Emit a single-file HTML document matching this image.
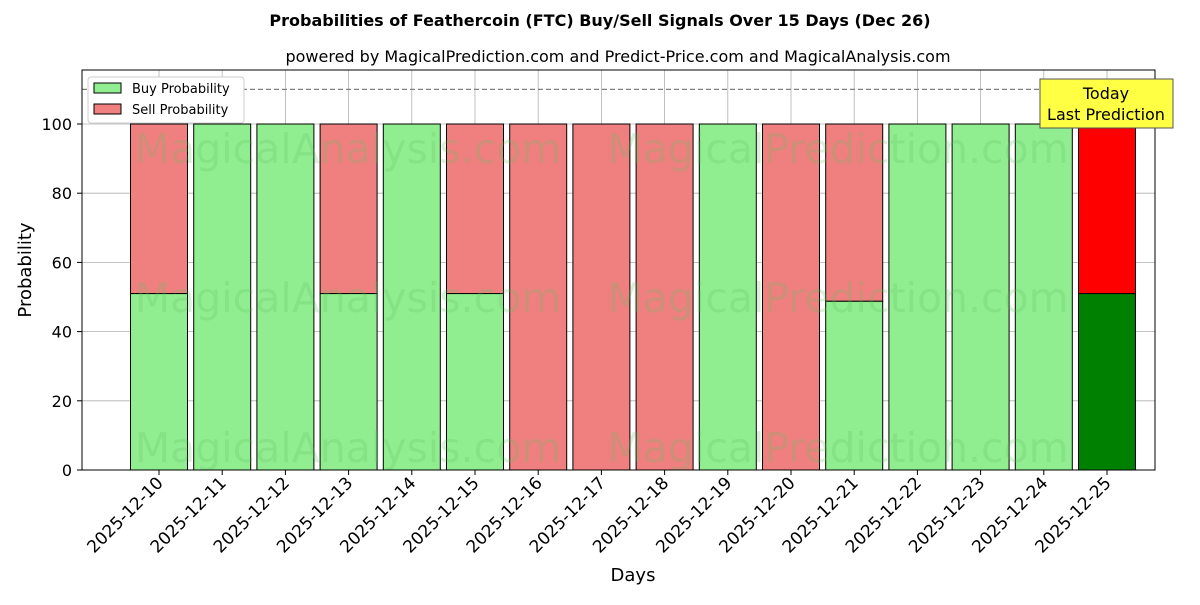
<!DOCTYPE html>
<html><head><meta charset="utf-8"><style>
body{margin:0;background:#fff;font-family:"Liberation Sans","DejaVu Sans",sans-serif;}
svg text{font-family:"DejaVu Sans","Liberation Sans",sans-serif;}
</style></head><body>
<svg id="chart" width="1200" height="600" xmlns="http://www.w3.org/2000/svg">
<text x="600" y="26" text-anchor="middle" font-size="16" font-weight="bold">Probabilities of Feathercoin (FTC) Buy/Sell Signals Over 15 Days (Dec 26)</text>
<text x="618" y="62" text-anchor="middle" font-size="16">powered by MagicalPrediction.com and Predict-Price.com and MagicalAnalysis.com</text>
<g id="grid"></g>
<g id="bars"></g>
<g id="wm" fill="#60c060" opacity="0.22" font-size="41">
<text x="348" y="163" text-anchor="middle">MagicalAnalysis.com</text>
<text x="838" y="163" text-anchor="middle">MagicalPrediction.com</text>
<text x="348" y="312" text-anchor="middle">MagicalAnalysis.com</text>
<text x="838" y="312" text-anchor="middle">MagicalPrediction.com</text>
<text x="348" y="462" text-anchor="middle">MagicalAnalysis.com</text>
<text x="838" y="462" text-anchor="middle">MagicalPrediction.com</text>
</g>
<g id="axes"></g>
<line x1="82" y1="89.4" x2="1155" y2="89.4" stroke="#808080" stroke-width="1.2" stroke-dasharray="5,3"/>
<rect x="82" y="70" width="1073" height="400" fill="none" stroke="#000" stroke-width="1"/>
<g>
<rect x="88" y="77" width="156" height="46" fill="#fff" stroke="#ccc" rx="3"/>
<rect x="94" y="83" width="27" height="10" fill="#90ee90" stroke="#000"/>
<text x="132" y="93" font-size="13">Buy Probability</text>
<rect x="94" y="104" width="27" height="10" fill="#f08080" stroke="#000"/>
<text x="132" y="114" font-size="13">Sell Probability</text>
</g>
<g>
<rect x="1040" y="79" width="133" height="49" fill="#ffff44" stroke="#555"/>
<text x="1106" y="99" text-anchor="middle" font-size="16">Today</text>
<text x="1106" y="120" text-anchor="middle" font-size="16">Last Prediction</text>
</g>
<text x="633" y="581" text-anchor="middle" font-size="18">Days</text>
<text transform="translate(31,270) rotate(-90)" text-anchor="middle" font-size="18">Probability</text>
</svg>
<script>
const days=["2025-12-10","2025-12-11","2025-12-12","2025-12-13","2025-12-14","2025-12-15","2025-12-16","2025-12-17","2025-12-18","2025-12-19","2025-12-20","2025-12-21","2025-12-22","2025-12-23","2025-12-24","2025-12-25"];
const buyValues=[51,100,100,51,100,51,0,0,0,100,0,48.8,100,100,100,51];
const sellValues=[49,0,0,49,0,49,100,100,100,0,100,51.2,0,0,0,49];
const yTicks=[0,20,40,60,80,100];
const NS="http://www.w3.org/2000/svg";
const y=v=>470-v*3.46;
const x=i=>159+i*63.2;
const bw=57;
function mk(tag,attrs,parent){const e=document.createElementNS(NS,tag);for(const k in attrs)e.setAttribute(k,attrs[k]);parent.appendChild(e);return e;}
const grid=document.getElementById('grid'),bars=document.getElementById('bars'),axes=document.getElementById('axes');
yTicks.forEach(t=>{
 const g=mk('line',{x1:82,x2:1155,y1:y(t),y2:y(t),stroke:'#b0b0b0','stroke-width':0.8},grid);
 
 
 const tk=mk('line',{x1:77,x2:82,y1:y(t),y2:y(t),stroke:'#000'},axes);
 
 
 const tx=mk('text',{x:72,y:y(t)+6,'text-anchor':'end','font-size':16},axes);
 tx.textContent=t;
 
 
});
days.forEach((d,i)=>{
 const g=mk('line',{x1:x(i),x2:x(i),y1:70,y2:470,stroke:'#b0b0b0','stroke-width':0.8},grid);
 
 
 const last=i===days.length-1;
 const b=buyValues[i],s=sellValues[i];
 if(b>0){const r=mk('rect',{x:x(i)-bw/2,y:y(b),width:bw,height:y(0)-y(b),fill:last?'#008000':'#90ee90',stroke:'#000','stroke-width':1},bars);
 
 }
 if(s>0){const r=mk('rect',{x:x(i)-bw/2,y:y(b+s),width:bw,height:y(b)-y(b+s),fill:last?'#ff0000':'#f08080',stroke:'#000','stroke-width':1},bars);
 
 }
 const tk=mk('line',{x1:x(i),x2:x(i),y1:470,y2:475,stroke:'#000'},axes);
 
 
 const tx=mk('text',{transform:`translate(${x(i)+5},484) rotate(-45)`,'text-anchor':'end','font-size':17},axes);
 tx.textContent=d;
 
 
});
</script>
</body></html>
